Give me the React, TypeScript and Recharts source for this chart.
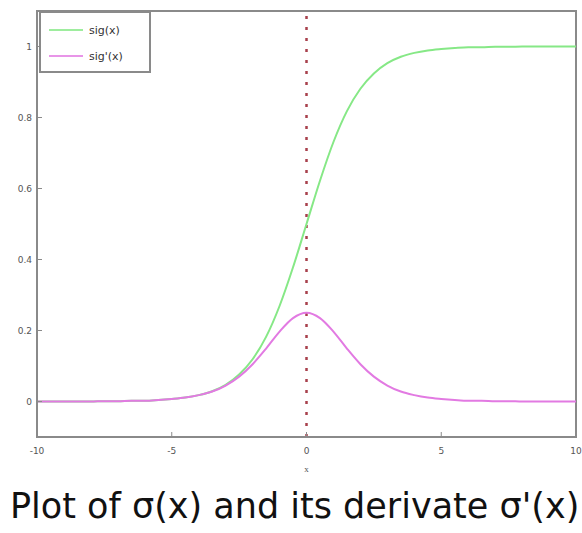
import React from "react";
import {
  LineChart,
  Line,
  XAxis,
  YAxis,
  ReferenceLine,
  ReferenceArea,
} from "recharts";

const xs = [
  -10, -9.5, -9, -8.5, -8, -7.5, -7, -6.5, -6, -5.5, -5, -4.5, -4, -3.5, -3, -2.5, -2, -1.5, -1, -0.5,
  0, 0.5, 1, 1.5, 2, 2.5, 3, 3.5, 4, 4.5, 5, 5.5, 6, 6.5, 7, 7.5, 8, 8.5, 9, 9.5, 10,
];
const sigValues = [
  0.0, 0.0, 0.0, 0.0, 0.0, 0.001, 0.001, 0.002, 0.002, 0.004, 0.007, 0.011, 0.018, 0.029, 0.047, 0.076, 0.119, 0.182, 0.269, 0.378,
  0.5, 0.622, 0.731, 0.818, 0.881, 0.924, 0.953, 0.971, 0.982, 0.989, 0.993, 0.996, 0.998, 0.998, 0.999, 0.999, 1.0, 1.0, 1.0, 1.0, 1.0,
];
const dsigValues = [
  0.0, 0.0, 0.0, 0.0, 0.0, 0.001, 0.001, 0.002, 0.002, 0.004, 0.007, 0.011, 0.018, 0.028, 0.045, 0.07, 0.105, 0.149, 0.197, 0.235,
  0.25, 0.235, 0.197, 0.149, 0.105, 0.07, 0.045, 0.028, 0.018, 0.011, 0.007, 0.004, 0.002, 0.002, 0.001, 0.001, 0.0, 0.0, 0.0, 0.0, 0.0,
];
const xDomain = [-10, 10];
const yDomain = [-0.1, 1.1];
const xTicks = [-10, -5, 0, 5, 10];
const yTicks = [0, 0.2, 0.4, 0.6, 0.8, 1];
const seriesNames = ["sig(x)", "sig'(x)"];
const seriesColors = ["#86e886", "#e27ae2"];
const title = "Plot of σ(x) and its derivate σ'(x)";

const data = xs.map((x, i) => ({ x, sig: sigValues[i], dsig: dsigValues[i] }));

const frame = "#8a8a8a";
const tickStyle = { fontSize: 9, fill: "#555", fontFamily: "DejaVu Sans" };

function LegendBox() {
  return (
    <div
      style={{
        position: "absolute",
        left: 39,
        top: 11,
        border: `2px solid ${frame}`,
        background: "#fff",
        width: 108,
        padding: "4px 0 2px 0",
        fontFamily: "DejaVu Sans",
        fontSize: 11,
        color: "#333",
      }}
    >
      {seriesNames.map((n, i) => (
        <div key={n} style={{ display: "flex", alignItems: "center", height: 26 }}>
          <div style={{ width: 34, height: 2, background: seriesColors[i], opacity: 0.8, marginLeft: 8, marginRight: 6 }} />
          <span>{n}</span>
        </div>
      ))}
    </div>
  );
}

export default function App() {
  return (
    <div style={{ position: "absolute", left: 0, top: 0, width: 582, height: 533, background: "#fff", overflow: "hidden" }}>
      <LineChart width={582} height={480} data={data} margin={{ top: 11, right: 6, left: 0, bottom: 0 }}>
        <XAxis
          type="number"
          dataKey="x"
          domain={xDomain}
          ticks={xTicks}
          height={43}
          axisLine={{ stroke: frame, strokeWidth: 2 }}
          tickLine={{ stroke: frame }}
          tickSize={-5}
          tickMargin={16}
          tick={tickStyle}
          label={{ value: "x", position: "insideBottom", offset: 8, fontSize: 9, fill: "#555" }}
        />
        <YAxis
          type="number"
          domain={yDomain}
          ticks={yTicks}
          width={37}
          axisLine={{ stroke: frame, strokeWidth: 2 }}
          tickLine={{ stroke: frame }}
          tickSize={-5}
          tickMargin={10}
          tick={tickStyle}
          tickFormatter={(v: number) => String(Math.round(v * 10) / 10)}
        />
        <ReferenceArea
          x1={xDomain[0]}
          x2={xDomain[1]}
          y1={yDomain[0]}
          y2={yDomain[1]}
          fill="none"
          stroke={frame}
          strokeWidth={2}
        />
        <ReferenceLine x={0} stroke="#a8404c" strokeWidth={2.5} strokeDasharray="3 8" />
        <Line
          type="monotone"
          dataKey="sig"
          name={seriesNames[0]}
          stroke={seriesColors[0]}
          strokeWidth={2}
          dot={false}
          isAnimationActive={false}
        />
        <Line
          type="monotone"
          dataKey="dsig"
          name={seriesNames[1]}
          stroke={seriesColors[1]}
          strokeWidth={2}
          dot={false}
          isAnimationActive={false}
        />
      </LineChart>
      <LegendBox />
      <div
        style={{
          position: "absolute",
          left: 10,
          top: 486,
          whiteSpace: "nowrap",
          fontFamily: "'DejaVu Sans', sans-serif",
          fontSize: 35,
          color: "#111",
        }}
      >
        {title}
      </div>
    </div>
  );
}
